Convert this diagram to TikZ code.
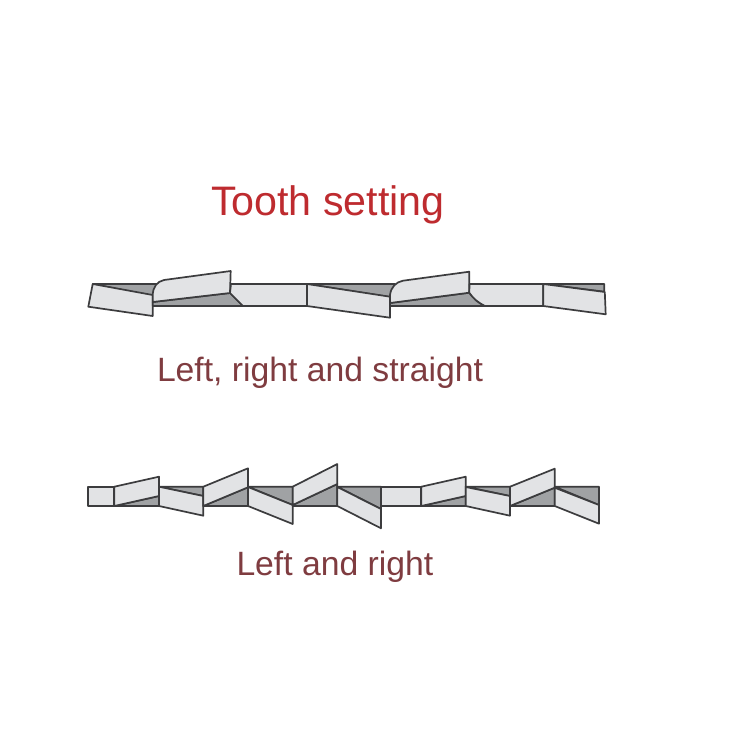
\documentclass[tikz,border=0pt]{standalone}
\usepackage{fontspec}
\setmainfont{Liberation Sans}
\definecolor{lite}{HTML}{E2E3E5}
\definecolor{dark}{HTML}{A0A2A4}
\definecolor{edge}{HTML}{3C3C3E}
\definecolor{titlered}{HTML}{BE2B2F}
\definecolor{labelred}{HTML}{7F3C40}
\tikzset{
  lp/.style={fill=lite,draw=edge,line width=1.7pt,line join=round},
  dp/.style={fill=dark,draw=edge,line width=1.7pt,line join=round},
  txt/.style={anchor=base west,inner sep=0pt,outer sep=0pt}
}
\begin{document}
\begin{tikzpicture}[x=1pt,y=-1pt]
\useasboundingbox (0,0) rectangle (750,750);
\fill[white] (0,0) rectangle (750,750);
\node[txt,text=titlered,font=\fontsize{41.2}{45}\selectfont] (title) at (211,215) {Tooth setting};
\node[txt,text=labelred,font=\fontsize{33.7}{38}\selectfont] (lab1) at (157,381) {Left, right and straight};
\node[txt,text=labelred,font=\fontsize{33.7}{38}\selectfont] (lab2) at (236.5,575) {Left and right};
% upper saw
\draw[dp] (92.7,284) -- (157,284) -- (152.7,296) -- cycle;
\draw[lp] (92.7,284) -- (152.7,295) -- (152.7,316) -- (88.3,306.7) -- cycle;
\draw[dp] (152.7,302) -- (230,293) -- (243,306) -- (152.7,306) -- cycle;
\draw[lp] (152.7,302) -- (152.7,295) .. controls (153,287) and (157,281.5) .. (164,280) -- (230.7,271) -- (230,293) -- cycle;
\draw[lp] (231,284) -- (307,284) -- (307,306) -- (243,306) -- (230,293) -- cycle;
\draw[dp] (307,284) -- (395,284) -- (390,297) -- cycle;
\draw[lp] (307,284) -- (390,296.7) -- (390,317.7) -- (307,306) -- cycle;
\draw[dp] (390,303) -- (469.3,292.7) .. controls (473,298) and (477,302) .. (485,306) -- (390,306) -- cycle;
\draw[lp] (390,303) -- (390,295) .. controls (391,287) and (396,282) .. (403,280.7) -- (469.3,271.7) -- (469.3,292.7) -- cycle;
\draw[lp] (469.5,284) -- (543.3,284) -- (543.3,306) -- (485,306) .. controls (477,302) and (473,298) .. (469.3,292.7) -- cycle;
\draw[dp] (543.3,284) -- (604.3,284) -- (604.3,291.7) -- cycle;
\draw[lp] (543.3,284) -- (604.8,292) -- (605.7,314.3) -- (543.3,306) -- cycle;
% lower saw
\draw[lp] (87.7,486.7) rectangle (114.3,506);
\draw[dp] (114.3,506) -- (159,496) -- (159,506) -- cycle;
\draw[lp] (114.3,486.7) -- (159,476.7) -- (159,496) -- (114.3,506) -- cycle;
\draw[dp] (159,486.7) -- (203.3,486.7) -- (203.3,496) -- cycle;
\draw[lp] (159,486.7) -- (203.3,496) -- (203.3,515.7) -- (159,506) -- cycle;
\draw[dp] (203.3,506) -- (248,487.3) -- (248,506) -- cycle;
\draw[lp] (203.3,486.7) -- (248,468.3) -- (248,487.3) -- (203.3,506) -- cycle;
\draw[dp] (248,486.7) -- (292.7,486.7) -- (292.7,505) -- cycle;
\draw[lp] (248,487) -- (292.7,505) -- (292.7,524) -- (248,506) -- cycle;
\draw[dp] (292.7,505) -- (337.3,484) -- (337.3,506) -- (292.7,506) -- cycle;
\draw[lp] (292.7,486.7) -- (337.3,464) -- (337.3,484) -- (292.7,505) -- cycle;
\draw[dp] (337.3,486.7) -- (381,486.7) -- (381,509) -- cycle;
\draw[lp] (337.3,487) -- (381,509) -- (381,528.3) -- (337.3,506) -- cycle;
\draw[lp] (381,486.7) rectangle (421.3,506);
\draw[dp] (421.3,506) -- (465.7,496) -- (465.7,506) -- cycle;
\draw[lp] (421.3,486.7) -- (465.7,476.7) -- (465.7,496) -- (421.3,506) -- cycle;
\draw[dp] (465.7,486.7) -- (510,486.7) -- (510,496) -- cycle;
\draw[lp] (465.7,487) -- (510,496) -- (510,515.7) -- (465.7,506) -- cycle;
\draw[dp] (510,506) -- (554.7,487.7) -- (554.7,506) -- cycle;
\draw[lp] (510,486.7) -- (554.7,468.7) -- (554.7,487.7) -- (510,506) -- cycle;
\draw[dp] (554.7,486.7) -- (599,486.7) -- (599,505) -- cycle;
\draw[lp] (554.7,487.7) -- (599,505) -- (599,523.7) -- (554.7,506) -- cycle;
\end{tikzpicture}
\end{document}
